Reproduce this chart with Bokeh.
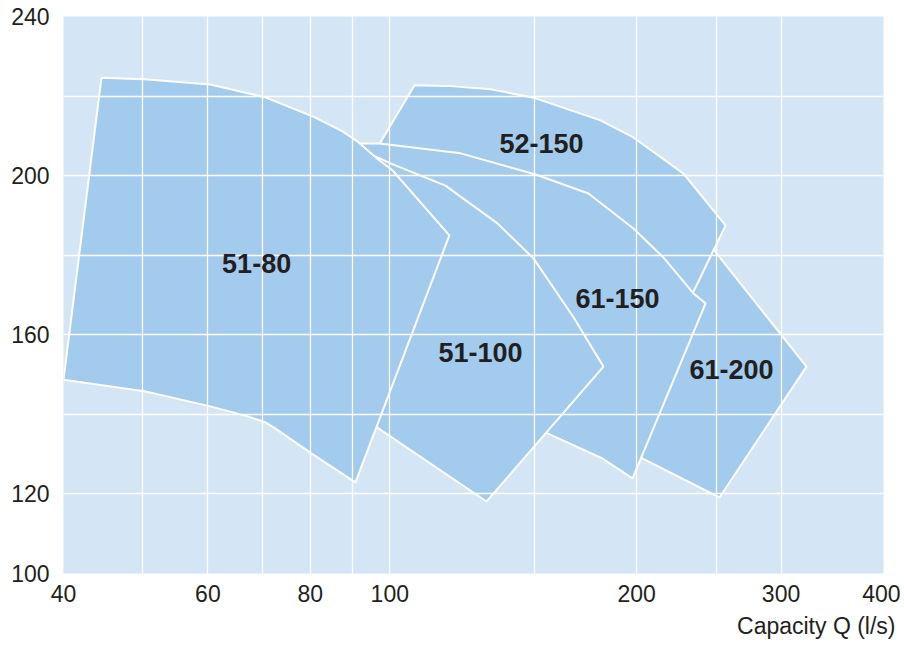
from bokeh.plotting import figure
from bokeh.models import FixedTicker, Title, ColumnDataSource
from bokeh.embed import file_html
from bokeh.resources import INLINE
from bokeh.core.properties import value

# ---- data ----
names = ["61-200", "52-150", "61-150", "51-100", "51-80"]   # drawn bottom -> top

x_61_200 = [245.4, 322.2, 252.4, 191.1, 219.9]
y_61_200 = [182.7, 152.0, 119.1, 131.7, 168.6]

x_52_150 = [107.2, 118.6, 132.7, 149.7, 180.7, 198.2, 228.1, 248.2, 256.7, 226.2, 152.7, 95.3]
y_52_150 = [222.7, 222.5, 221.7, 219.6, 213.9, 209.6, 200.5, 191.2, 187.5, 164.1, 181.2, 205.1]

x_61_150 = [91.1, 97.2, 122.0, 150.6, 174.7, 198.2, 215.7, 234.6, 242.7, 197.7, 181.7, 155.7, 144.3, 98.8]
y_61_150 = [208.1, 208.1, 205.6, 200.3, 195.5, 186.7, 179.4, 170.4, 167.9, 123.9, 128.9, 135.2, 138.5, 168.6]

x_51_100 = [93.7, 93.7, 96.6, 100.2, 116.9, 135.3, 149.7, 167.5, 182.2, 131.2]
y_51_100 = [138.5, 205.8, 204.6, 203.1, 197.5, 188.0, 179.2, 164.4, 152.0, 118.1]

x_51_80 = [44.5, 50.2, 60.4, 70.5, 80.9, 87.1, 91.3, 96.1, 100.8, 118.2, 90.8, 80.9, 72.1, 70.5, 67.1, 60.4, 50.2, 40.0]
y_51_80 = [224.6, 224.2, 222.9, 219.7, 214.7, 211.4, 208.6, 204.6, 201.3, 185.0, 122.9, 129.7, 136.8, 138.0, 139.5, 142.0, 145.8, 148.7]

label_text = ["51-80", "52-150", "61-150", "51-100", "61-200"]
label_x = [68.8, 153.1, 189.5, 129.0, 261.0]
label_y = [177.9, 208.1, 169.1, 155.6, 151.3]

x_tick_values = [40, 60, 80, 100, 200, 300, 400]
x_tick_labels = ["40", "60", "80", "100", "200", "300", "400"]
x_grid_values = [50, 60, 70, 80, 90, 100, 150, 200, 250, 300]
y_tick_values = [100, 120, 160, 200, 240]
y_tick_labels = ["100", "120", "160", "200", "240"]
y_grid_values = [120, 140, 160, 180, 200, 220]
x_title = "Capacity Q (l/s)"

# ---- styling ----
BG = "#D4E6F5"
FILL = "#A3CBEE"
TXT = "#231f20"
FONT = "Liberation Sans"

p = figure(width=900, height=645, x_axis_type="log", x_range=(40, 400), y_range=(100, 240),
           output_backend="svg", toolbar_location=None,
           min_border_left=63, min_border_right=17, min_border_top=16, min_border_bottom=72)
p.background_fill_color = BG
p.outline_line_color = None
p.border_fill_color = "white"

src = ColumnDataSource(dict(
    xs=[x_61_200, x_52_150, x_61_150, x_51_100, x_51_80],
    ys=[y_61_200, y_52_150, y_61_150, y_51_100, y_51_80],
    name=names))
p.patches("xs", "ys", source=src, fill_color=FILL, fill_alpha=1.0,
          line_color="white", line_width=2)

# grids above the patches
p.xgrid.ticker = FixedTicker(ticks=x_grid_values)
p.ygrid.ticker = FixedTicker(ticks=y_grid_values)
for g in (p.xgrid, p.ygrid):
    g.grid_line_color = "white"
    g.grid_line_width = 1.3
    g.level = "guide"

# axes
p.xaxis.ticker = FixedTicker(ticks=x_tick_values)
p.xaxis.major_label_overrides = {v: s for v, s in zip(x_tick_values, x_tick_labels)}
p.yaxis.ticker = FixedTicker(ticks=y_tick_values)
p.yaxis.major_label_overrides = {v: s for v, s in zip(y_tick_values, y_tick_labels)}
for ax in (p.xaxis, p.yaxis):
    ax.axis_line_color = None
    ax.major_tick_line_color = None
    ax.minor_tick_line_color = None
    ax.major_tick_out = 0
    ax.major_tick_in = 0
    ax.minor_tick_out = 0
    ax.minor_tick_in = 0
    ax.major_label_text_font = FONT
    ax.major_label_text_font_size = "23px"
    ax.major_label_text_color = TXT
p.xaxis.major_label_standoff = 11
p.yaxis.major_label_standoff = 14

p.text(x=label_x, y=label_y, text=label_text, text_font=value(FONT),
       text_font_style="bold", text_font_size="27px", text_color=TXT,
       text_align="center", text_baseline="middle", level="overlay")

# x-axis title, right-aligned below the axis
t = Title(text=x_title, align="right", offset=-12, text_font=FONT,
          text_font_size="23px", text_font_style="normal", text_color=TXT,
          standoff=12, vertical_align="bottom")
p.add_layout(t, "below")

open("out.html", "w").write(file_html(p, INLINE))
